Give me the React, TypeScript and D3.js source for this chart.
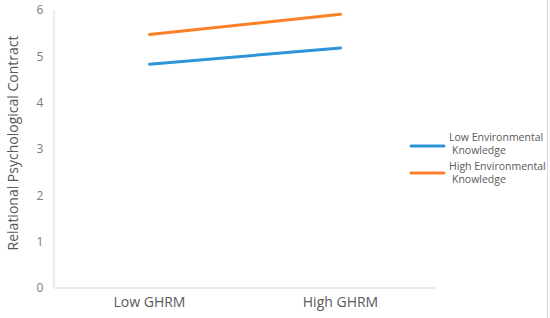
import React, { useEffect, useRef } from 'react';
import * as d3 from 'd3';

const categories = ['Low GHRM', 'High GHRM'];
const lowEnv = [4.83, 5.18];
const highEnv = [5.47, 5.91];
const yTicks = [0, 1, 2, 3, 4, 5, 6];
const seriesNames = [
  ['Low Environmental', 'Knowledge'],
  ['High Environmental', 'Knowledge'],
];
const seriesColors = ['#2e94d8', '#fd7f28'];

const App = () => {
  const svgRef = useRef<SVGSVGElement>(null);

  useEffect(() => {
    const svg = d3.select(svgRef.current);
    svg.selectAll('*').remove(); // Clear previous renders

    const width = 550;
    const height = 318;
    const left = 54;
    const right = 436;
    const top = 10;
    const bottom = 288;
    const font = "'Open Sans', 'Noto Sans', sans-serif";

    const xScale = d3.scaleBand().domain(categories).range([left, right]);
    const yScale = d3.scaleLinear().domain([0, 6]).range([bottom, top]);

    svg.append('rect').attr('width', width).attr('height', height).attr('fill', '#fff');

    // right border line
    svg.append('line')
      .attr('x1', 547.5).attr('x2', 547.5)
      .attr('y1', 0).attr('y2', height)
      .attr('stroke', '#d9d9d9').attr('stroke-width', 1);

    // axes
    svg.append('line')
      .attr('x1', left).attr('x2', left)
      .attr('y1', yScale(6)).attr('y2', yScale(0))
      .attr('stroke', '#d9d9d9');
    svg.append('line')
      .attr('x1', left).attr('x2', right)
      .attr('y1', yScale(0)).attr('y2', yScale(0))
      .attr('stroke', '#d9d9d9');

    // y tick labels
    svg.selectAll('.ytick')
      .data(yTicks)
      .enter()
      .append('text')
      .attr('x', 40)
      .attr('y', d => yScale(d))
      .attr('dy', '0.35em')
      .attr('text-anchor', 'middle')
      .attr('font-family', font)
      .attr('font-size', 12)
      .attr('fill', '#7a7a7a')
      .text(d => d);

    // x labels
    svg.selectAll('.xlab')
      .data(categories)
      .enter()
      .append('text')
      .attr('x', d => (xScale(d) ?? 0) + xScale.bandwidth() / 2)
      .attr('y', 307)
      .attr('text-anchor', 'middle')
      .attr('font-family', font)
      .attr('font-size', 14)
      .attr('fill', '#595959')
      .text(d => d);

    // y axis title
    svg.append('text')
      .attr('transform', 'translate(18,143) rotate(-90)')
      .attr('text-anchor', 'middle')
      .attr('font-family', font)
      .attr('font-size', 14)
      .attr('fill', '#595959')
      .text('Relational Psychological Contract');

    const line = d3.line<number>()
      .x((_, i) => (xScale(categories[i]) ?? 0) + xScale.bandwidth() / 2)
      .y(d => yScale(d));

    [lowEnv, highEnv].forEach((vals, i) => {
      svg.append('path')
        .datum(vals)
        .attr('d', line)
        .attr('fill', 'none')
        .attr('stroke', seriesColors[i])
        .attr('stroke-width', 3)
        .attr('stroke-linecap', 'round');
    });

    // legend
    const legendY = [146, 173];
    seriesNames.forEach((lines, i) => {
      const g = svg.append('g');
      g.append('line')
        .attr('x1', 411).attr('x2', 444)
        .attr('y1', legendY[i]).attr('y2', legendY[i])
        .attr('stroke', seriesColors[i])
        .attr('stroke-width', 3)
        .attr('stroke-linecap', 'round');
      lines.forEach((t, j) => {
        g.append('text')
          .attr('x', j === 0 ? 449 : 452)
          .attr('y', legendY[i] - 5 + (i === 1 ? 2 : 0) + j * 13)
          .attr('font-family', font)
          .attr('font-size', 10.5)
          .attr('fill', '#595959')
          .text(t);
      });
    });
  }, []);

  return (
    <div style={{ position: 'fixed', left: 0, top: 0 }}>
      <svg ref={svgRef} width={550} height={318} style={{ display: 'block' }} />
    </div>
  );
};

export default App;
